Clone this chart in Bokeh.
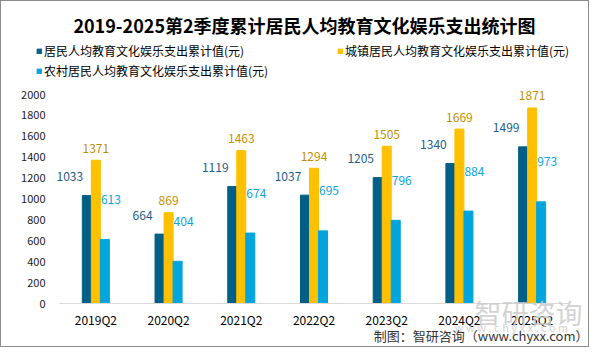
from bokeh.plotting import figure
from bokeh.models import (ColumnDataSource, Range1d, Label, FixedTicker, Legend, LegendItem,
                          LinearAxis)
from bokeh.transform import dodge
from bokeh.core.properties import value
from bokeh.embed import file_html
from bokeh.resources import INLINE

# ---- data ----
categories = ["2019Q2", "2020Q2", "2021Q2", "2022Q2", "2023Q2", "2024Q2", "2025Q2"]
all_residents = [1033, 664, 1119, 1037, 1205, 1340, 1499]
urban_residents = [1371, 869, 1463, 1294, 1505, 1669, 1871]
rural_residents = [613, 404, 674, 695, 796, 884, 973]
series_names = [
    "居民人均教育文化娱乐支出累计值(元)",
    "城镇居民人均教育文化娱乐支出累计值(元)",
    "农村居民人均教育文化娱乐支出累计值(元)",
]
y_ticks = [0, 200, 400, 600, 800, 1000, 1200, 1400, 1600, 1800, 2000]

title_text = "2019-2025第2季度累计居民人均教育文化娱乐支出统计图"
source_text = "制图：智研咨询（www.chyxx.com）"
watermark_text = "智研咨询"
watermark_url = "w w w . c h y x x . c o m"

# ---- style ----
FONT = "Noto Sans CJK SC"
C_DARK = "#005F86"
C_YEL = "#FFC000"
C_LIGHT = "#00A5DD"
T_DARK = "#1F5C86"
T_YEL = "#BF8F00"
T_LIGHT = "#0AA3DE"

W, H = 589, 347
AX_L, AX_R, AX_B = 58, 567, 302       # plot area edges on the canvas (px)
N = len(categories)
PX_X = (AX_R - AX_L) / N              # px per category
PX_Y = 209 / 2000                     # px per value unit

xpos = [i + 0.5 for i in range(N)]    # category centres on the numeric axis

src = ColumnDataSource(dict(x=xpos, a=all_residents, u=urban_residents, r=rural_residents,
                            a_t=[str(v) for v in all_residents],
                            u_t=[str(v) for v in urban_residents],
                            r_t=[str(v) for v in rural_residents]))

# the frame covers the whole canvas; axes are pinned at x=0 / y=0
p = figure(width=W, height=H,
           x_range=Range1d(-AX_L / PX_X, (W - AX_L) / PX_X),
           y_range=Range1d(-(H - AX_B) / PX_Y, AX_B / PX_Y),
           output_backend="svg", toolbar_location=None, title=None,
           x_axis_type=None, y_axis_type=None,
           min_border_left=0, min_border_right=0, min_border_top=0, min_border_bottom=0)
p.styles = {"border": "1px solid #8C8C8C"}
p.outline_line_color = None
p.background_fill_color = "white"
p.border_fill_color = "white"
p.xgrid.grid_line_color = None
p.ygrid.grid_line_color = None

yaxis = LinearAxis(fixed_location=0, ticker=FixedTicker(ticks=y_ticks), bounds=(0, 2000))
yaxis.axis_line_color = None
yaxis.major_tick_line_color = None
yaxis.minor_tick_line_color = None
yaxis.major_tick_out = 0
yaxis.major_tick_in = 0
yaxis.major_label_standoff = 14
yaxis.major_label_text_font = FONT
yaxis.major_label_text_font_size = "11px"
yaxis.major_label_text_color = "#1a1a1a"
p.add_layout(yaxis, "left")

xaxis = LinearAxis(fixed_location=0, ticker=FixedTicker(ticks=xpos), bounds=(0, N),
                   major_label_overrides={x: c for x, c in zip(xpos, categories)})
xaxis.axis_line_color = "#D9D9D9"
xaxis.axis_line_width = 1
xaxis.major_tick_line_color = None
xaxis.minor_tick_line_color = None
xaxis.major_tick_out = 0
xaxis.major_tick_in = 0
xaxis.major_label_standoff = 7
xaxis.major_label_text_font = FONT
xaxis.major_label_text_font_size = "12px"
xaxis.major_label_text_color = "#000000"


def dx(px):
    return (px - AX_L) / PX_X


def dy(py):
    return (AX_B - py) / PX_Y


def lab(px, py, text, size, color, align="left", style="normal", alpha=1.0):
    p.add_layout(Label(x=dx(px), y=dy(py), text=text, text_font=FONT, text_font_size=size,
                       text_color=color, text_align=align, text_baseline="middle",
                       text_font_style=style, text_alpha=alpha))


# watermark (drawn first, behind the axis labels)
lab(527, 311, watermark_text, "27px", "#CBCBCB", align="center", alpha=0.85)
lab(510, 325, watermark_url, "11px", "#CBCBCB", align="center", alpha=0.85)

p.add_layout(xaxis, "below")

BW = 0.124
r1 = p.vbar(x=dodge("x", -BW), top="a", width=BW, source=src, color=C_DARK)
r2 = p.vbar(x=dodge("x", 0), top="u", width=BW, source=src, color=C_YEL)
r3 = p.vbar(x=dodge("x", BW), top="r", width=BW, source=src, color=C_LIGHT)

common = dict(source=src, text_font=value(FONT), text_font_size="12px",
              text_align="center", text_baseline="middle")
p.text(x=dodge("x", -BW), y="a", text="a_t", x_offset=-17, y_offset=-19,
       text_color=T_DARK, **common)
p.text(x=dodge("x", 0), y="u", text="u_t", x_offset=0, y_offset=-12,
       text_color=T_YEL, **common)
p.text(x=dodge("x", BW), y="r", text="r_t", x_offset=6, y_offset=-40,
       text_color=T_LIGHT, **common)

# title
lab(303, 23, title_text, "18px", "#000000", align="center", style="bold")

# legend: two columns, third item wraps
legend = Legend(items=[LegendItem(label=series_names[0], renderers=[r1]),
                       LegendItem(label=series_names[1], renderers=[r2]),
                       LegendItem(label=series_names[2], renderers=[r3])],
                ncols=2, orientation="horizontal", location=(35, H - 78),
                label_text_font=FONT, label_text_font_size="12px", label_text_color="#000000",
                glyph_width=6, glyph_height=6, label_standoff=2, label_width=290,
                label_height=16, spacing=3, padding=0, margin=0,
                border_line_color=None, background_fill_alpha=0)
p.add_layout(legend, "center")

# source
lab(587, 334, source_text, "13px", "#333333", align="right")

open("out.html", "w").write(file_html(p, INLINE))
